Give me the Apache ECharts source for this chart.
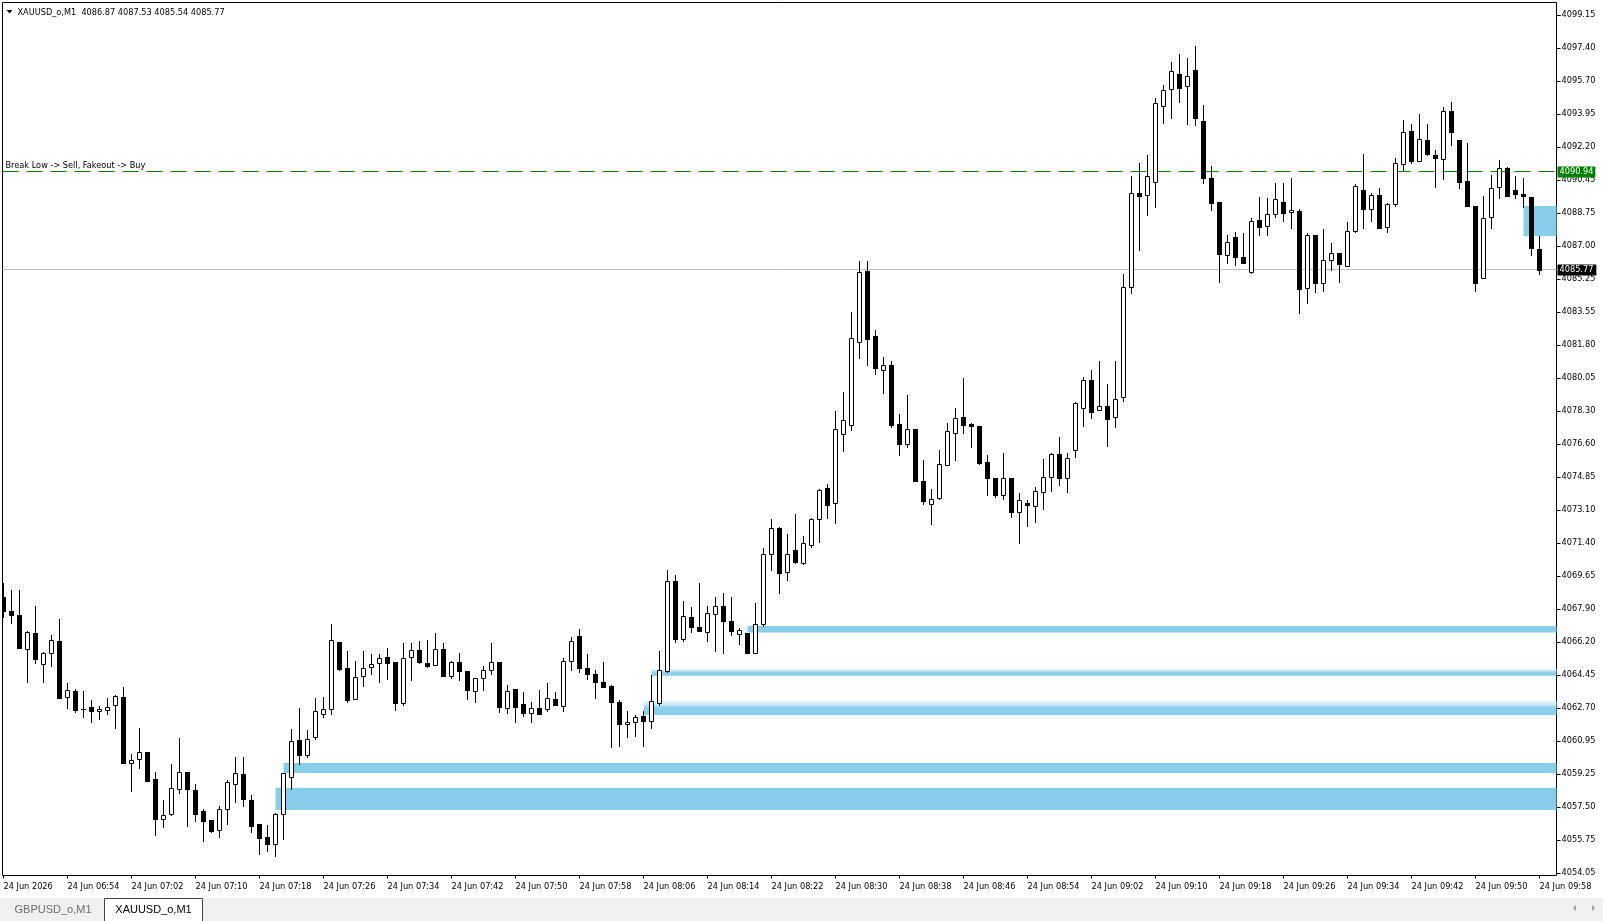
<!DOCTYPE html>
<html>
<head>
<meta charset="utf-8">
<script src="https://cdn.jsdelivr.net/npm/echarts@6/dist/echarts.min.js"></script>
<style>html,body{margin:0;padding:0;background:#fff;overflow:hidden}#chart{width:1603px;height:921px}</style>
</head>
<body>
<div id="chart"></div>
<script>
// ---------- data ----------
const symbolName = 'XAUUSD_o,M1';
const tabNames = ['GBPUSD_o,M1', 'XAUUSD_o,M1'];

const openP = [
4068.54,4067.80,4067.61,4065.84,4066.67,4065.02,4065.60,4066.24,4063.32,4063.62,
4062.65,4062.78,4062.55,4062.60,4062.86,4063.30,4059.81,4060.02,4060.39,4058.97,
4056.87,4057.15,4058.45,4059.34,4058.41,4057.31,4056.83,4056.29,4057.39,4058.71,
4059.25,4057.89,4056.63,4055.92,4055.56,4057.13,4059.08,4061.02,4060.23,4061.18,
4062.39,4062.65,4066.19,4064.81,4063.18,4064.39,4064.86,4065.07,4065.39,4065.12,
4062.97,4065.39,4065.75,4065.07,4064.97,4065.81,4064.39,4065.12,4064.65,4063.60,
4064.28,4064.70,4065.12,4062.70,4063.70,4062.91,4062.44,4062.70,4062.65,4063.18,
4062.81,4065.17,4066.49,4064.81,4064.49,4064.07,4063.86,4063.02,4061.86,4061.97,
4062.28,4062.02,4062.97,4064.65,4069.38,4066.33,4067.49,4066.96,4066.70,4067.65,
4068.07,4067.28,4066.59,4066.65,4065.60,4067.12,4070.80,4072.17,4069.89,4071.01,
4070.34,4071.31,4072.64,4074.27,4073.48,4077.11,4077.58,4081.94,4085.68,4082.26,
4080.47,4080.73,4077.63,4076.58,4077.37,4074.64,4073.43,4073.74,4075.48,4077.16,
4078.00,4077.63,4077.53,4075.64,4074.80,4073.90,4074.80,4073.01,4073.48,4073.32,
4074.06,4074.88,4076.06,4074.83,4076.27,4078.48,4079.99,4078.39,4078.60,4078.04,
4079.05,4084.83,4089.78,4089.67,4090.35,4094.35,4095.24,4096.03,4095.40,4096.24,
4093.56,4090.56,4089.30,4086.52,4087.46,4086.41,4085.62,4088.36,4088.04,4088.67,
4089.30,4088.78,4088.85,4084.78,4087.57,4085.05,4086.25,4086.62,4085.94,4087.78,
4089.93,4088.94,4089.67,4087.99,4089.20,4091.30,4093.03,4091.46,4092.56,4091.77,
4091.56,4094.09,4092.56,4090.41,4089.09,4085.31,4088.51,4090.09,4091.09,4089.93,
4089.72,4089.57,4086.87];

const highP = [
4069.28,4068.93,4068.93,4066.77,4068.10,4065.68,4066.56,4067.40,4064.02,4063.72,
4063.62,4063.14,4062.83,4063.25,4063.41,4063.83,4060.29,4061.67,4060.39,4059.38,
4057.89,4059.78,4061.13,4059.34,4058.71,4057.39,4056.83,4057.57,4058.94,4060.13,
4060.13,4058.15,4056.63,4056.55,4057.20,4059.29,4061.60,4062.72,4061.57,4063.25,
4063.30,4067.14,4066.19,4065.70,4065.17,4065.70,4065.56,4065.56,4065.86,4065.12,
4066.12,4066.12,4066.23,4066.28,4066.65,4066.12,4065.17,4065.59,4064.65,4064.28,
4064.91,4066.12,4065.12,4063.91,4063.70,4063.58,4063.05,4063.65,4064.02,4063.55,
4065.33,4066.44,4066.87,4065.54,4064.70,4065.12,4063.91,4063.12,4062.55,4062.34,
4062.55,4064.44,4065.70,4069.96,4069.70,4068.33,4068.01,4069.28,4068.07,4068.54,
4068.75,4068.54,4066.91,4066.65,4068.22,4071.11,4072.64,4072.25,4071.87,4072.92,
4071.76,4072.73,4074.23,4074.48,4078.32,4079.31,4083.52,4086.20,4086.20,4082.57,
4081.15,4080.94,4078.16,4079.16,4077.37,4075.74,4074.22,4076.27,4077.68,4078.47,
4080.05,4077.68,4077.53,4076.00,4074.80,4076.11,4074.80,4074.01,4073.64,4074.32,
4075.79,4076.11,4076.95,4076.11,4078.80,4080.14,4080.49,4080.96,4079.74,4080.96,
4085.54,4090.69,4091.37,4091.79,4094.77,4095.47,4096.66,4097.08,4096.87,4097.50,
4094.40,4091.19,4089.30,4087.57,4087.73,4087.67,4088.46,4089.57,4089.51,4090.30,
4090.30,4090.56,4088.95,4087.67,4087.57,4087.88,4087.15,4086.62,4088.25,4090.25,
4091.83,4089.78,4090.04,4089.25,4091.61,4093.61,4093.40,4093.93,4093.40,4092.04,
4094.30,4094.56,4092.56,4092.40,4089.09,4089.62,4090.72,4091.51,4091.14,4090.67,
4090.56,4089.57,4087.53];

const lowP = [
4067.52,4067.17,4065.89,4064.11,4065.07,4064.11,4064.95,4063.27,4062.74,4062.53,
4062.27,4062.00,4062.13,4062.39,4061.65,4059.81,4058.38,4059.59,4058.87,4056.05,
4056.48,4057.08,4058.27,4056.52,4056.80,4055.75,4056.22,4055.92,4056.62,4057.80,
4057.59,4056.19,4055.05,4055.22,4054.96,4055.82,4058.48,4059.76,4060.13,4061.07,
4062.27,4062.39,4064.74,4063.06,4063.18,4063.86,4064.49,4064.07,4064.23,4062.60,
4062.86,4064.18,4065.07,4064.86,4064.97,4064.39,4064.28,4064.18,4063.21,4063.02,
4063.65,4064.49,4062.49,4062.44,4061.97,4062.32,4061.97,4062.39,4062.55,4062.86,
4062.55,4064.70,4064.60,4064.26,4063.23,4063.81,4060.65,4060.74,4061.18,4061.23,
4060.71,4061.65,4062.86,4064.60,4066.17,4066.23,4066.70,4066.75,4066.23,4065.70,
4065.60,4066.54,4066.07,4065.60,4065.60,4067.01,4069.96,4068.75,4069.45,4070.33,
4070.31,4071.20,4071.46,4072.73,4072.43,4076.21,4077.32,4081.10,4080.73,4080.26,
4079.26,4077.47,4076.00,4076.42,4074.64,4073.43,4072.37,4073.69,4075.48,4075.74,
4077.16,4076.42,4075.53,4073.90,4073.80,4073.69,4072.78,4071.38,4072.27,4072.48,
4073.17,4074.15,4074.43,4074.06,4075.90,4077.56,4077.98,4078.39,4076.48,4077.51,
4078.88,4084.52,4086.80,4088.62,4089.04,4093.46,4093.72,4094.60,4093.40,4093.35,
4090.30,4088.88,4085.10,4086.10,4085.99,4086.10,4085.57,4087.57,4087.57,4088.51,
4088.30,4087.94,4083.47,4083.99,4084.57,4084.62,4085.73,4085.10,4085.94,4087.73,
4087.94,4088.30,4087.94,4087.73,4089.09,4090.99,4091.35,4091.46,4091.77,4090.09,
4090.51,4092.30,4090.04,4089.09,4084.62,4085.31,4087.94,4089.51,4089.62,4089.51,
4089.04,4086.52,4085.54];

const closeP = [
4067.84,4067.63,4065.89,4066.72,4065.28,4065.60,4066.28,4063.27,4063.67,4062.62,
4062.67,4062.55,4062.65,4062.78,4063.35,4059.81,4059.97,4060.39,4058.87,4056.90,
4057.08,4058.50,4059.34,4058.48,4057.17,4056.80,4056.27,4057.41,4058.83,4059.30,
4057.96,4056.54,4055.87,4055.56,4057.13,4059.29,4060.97,4060.23,4061.07,4062.55,
4062.65,4066.28,4064.79,4063.16,4064.33,4064.81,4065.02,4065.33,4065.11,4062.97,
4065.33,4065.75,4065.12,4064.91,4065.81,4064.39,4065.12,4064.65,4063.65,4064.28,
4064.70,4065.12,4062.79,4063.60,4062.79,4062.44,4062.74,4062.39,4063.23,4062.86,
4065.17,4066.23,4064.81,4064.49,4064.07,4063.81,4063.02,4061.86,4061.97,4062.23,
4062.02,4063.07,4064.70,4069.38,4066.33,4067.58,4066.96,4066.75,4067.70,4068.07,
4067.28,4066.75,4066.80,4065.60,4067.12,4070.80,4072.17,4069.84,4070.81,4070.41,
4071.38,4072.67,4074.18,4073.41,4077.37,4077.84,4082.15,4085.62,4082.14,4080.58,
4080.73,4077.58,4076.58,4077.40,4074.64,4073.59,4073.69,4075.53,4077.26,4077.95,
4077.58,4077.53,4075.58,4074.80,4073.90,4074.80,4073.01,4073.64,4073.38,4074.11,
4074.88,4076.06,4074.83,4075.85,4078.74,4079.99,4078.30,4078.60,4077.90,4078.95,
4084.83,4089.78,4089.62,4090.67,4094.51,4095.19,4096.19,4095.30,4095.93,4093.72,
4090.56,4089.25,4086.57,4087.20,4086.41,4086.13,4088.30,4087.99,4088.67,4089.46,
4088.73,4088.88,4084.73,4087.57,4085.05,4086.25,4086.62,4086.04,4087.78,4090.14,
4088.94,4089.67,4087.94,4089.20,4091.35,4092.98,4091.46,4092.61,4091.83,4091.62,
4094.09,4092.98,4090.35,4089.09,4085.05,4088.46,4090.04,4091.09,4089.62,4089.72,
4089.62,4086.89,4085.77];

const yTickLabels = ['4054.05','4055.75','4057.50','4059.25','4060.95','4062.70','4064.45','4066.20','4067.90',
  '4069.65','4071.40','4073.10','4074.85','4076.60','4078.30','4080.05','4081.80','4083.55','4085.25',
  '4087.00','4088.75','4090.45','4092.20','4093.95','4095.70','4097.40','4099.15'];

const xTickLabels = ['24 Jun 2026','24 Jun 06:54','24 Jun 07:02','24 Jun 07:10','24 Jun 07:18','24 Jun 07:26',
  '24 Jun 07:34','24 Jun 07:42','24 Jun 07:50','24 Jun 07:58','24 Jun 08:06','24 Jun 08:14','24 Jun 08:22',
  '24 Jun 08:30','24 Jun 08:38','24 Jun 08:46','24 Jun 08:54','24 Jun 09:02','24 Jun 09:10','24 Jun 09:18',
  '24 Jun 09:26','24 Jun 09:34','24 Jun 09:42','24 Jun 09:50','24 Jun 09:58'];
const xTickEvery = 8;

// zones: start bar, top price, bottom price, faded top (1/0)
const zoneStart  = [34, 35, 80, 81, 93, 190];
const zoneTop    = [4058.53, 4059.83, 4063.09, 4064.77, 4067.03, 4089.11];
const zoneBottom = [4057.36, 4059.31, 4062.36, 4064.42, 4066.69, 4087.53];
const zoneFade   = [0, 0, 1, 1, 0, 0];

// horizontal levels: price, kind (0 = dashed signal level, 1 = bid line)
const levelPrices = [4090.94, 4085.77];
const levelKinds  = [0, 1];
const levelTexts  = ['Break Low -> Sell, Fakeout -> Buy', ''];

// ---------- layout ----------
const FONT = '"DejaVu Sans", sans-serif';
const FS = 8.2;
const N = openP.length;
const X_MIN = -0.125, X_MAX = 194.125;
const Y_MIN = 4053.918, Y_MAX = 4099.807;
const Y_LAB_MIN = parseFloat(yTickLabels[0]);
const Y_LAB_MAX = parseFloat(yTickLabels[yTickLabels.length - 1]);
const Y_STEP = (Y_LAB_MAX - Y_LAB_MIN) / (yTickLabels.length - 1);

const candleData = openP.map((o, i) => [i, o, highP[i], lowP[i], closeP[i]]);
const zoneData = zoneStart.map((s, k) => [s, zoneTop[k], zoneBottom[k], zoneFade[k]]);
const levelData = levelPrices.map((p, k) => [0, p, levelKinds[k], k]);

function renderCandle(params, api) {
  const i = api.value(0), o = api.value(1), h = api.value(2), l = api.value(3), c = api.value(4);
  const pO = api.coord([i, o]), pC = api.coord([i, c]);
  const pH = api.coord([i, h]), pL = api.coord([i, l]);
  const x = Math.floor(pO[0]);
  const yTop = Math.round(Math.min(pO[1], pC[1]));
  const yBot = Math.round(Math.max(pO[1], pC[1]));
  const yH = Math.round(pH[1]), yL = Math.round(pL[1]);
  const kids = [{type: 'line', shape: {x1: x + 0.5, y1: yH, x2: x + 0.5, y2: yL + 1},
    style: {stroke: '#000', lineWidth: 1}}];
  if (yBot - yTop < 1) {
    kids.push({type: 'line', shape: {x1: x - 2, y1: yTop + 0.5, x2: x + 3, y2: yTop + 0.5},
      style: {stroke: '#000', lineWidth: 1}});
  } else if (c > o) {
    kids.push({type: 'rect', shape: {x: x - 1.5, y: yTop + 0.5, width: 4, height: yBot - yTop},
      style: {fill: '#fff', stroke: '#000', lineWidth: 1}});
  } else {
    kids.push({type: 'rect', shape: {x: x - 2, y: yTop, width: 5, height: yBot - yTop + 1},
      style: {fill: '#000'}});
  }
  return {type: 'group', children: kids};
}

function renderZone(params, api) {
  const s = api.value(0), t = api.value(1), b = api.value(2), fade = api.value(3);
  const p1 = api.coord([s, t]), p2 = api.coord([s, b]);
  const cs = params.coordSys;
  const x0 = p1[0], x1 = cs.x + cs.width;
  const fill = fade ? new echarts.graphic.LinearGradient(0, 0, 0, 1, [
      {offset: 0, color: '#E4F4FB'}, {offset: 0.3, color: '#C6E8F6'},
      {offset: 0.45, color: '#8FD1EC'}, {offset: 1, color: '#87CEEB'}]) : '#87CEEB';
  return {type: 'rect', shape: {x: x0, y: p1[1], width: x1 - x0, height: p2[1] - p1[1]},
    style: {fill: fill}};
}

function renderLevel(params, api) {
  const p = api.value(1), kind = api.value(2), k = api.value(3);
  const cs = params.coordSys;
  const y = Math.floor(api.coord([0, p])[1]) + 0.5;
  const xL = cs.x, xR = cs.x + cs.width;
  const kids = [];
  if (kind === 0) {
    kids.push({type: 'line', shape: {x1: xL, y1: y, x2: xR, y2: y},
      style: {stroke: '#008000', lineWidth: 1, lineDash: [16, 8]}});
    kids.push({type: 'text', x: xL + 3, y: y - 1.5,
      style: {text: levelTexts[k], fill: '#000', font: FS + 'px ' + FONT, verticalAlign: 'bottom', align: 'left'}});
    kids.push({type: 'text', x: xR + 1, y: y + 0.5,
      style: {text: p.toFixed(2), fill: '#fff', font: FS + 'px ' + FONT, verticalAlign: 'middle', align: 'left',
        backgroundColor: '#008000', padding: [2, 2, 1, 2]}});
  } else {
    kids.push({type: 'line', shape: {x1: xL, y1: y, x2: xR, y2: y},
      style: {stroke: '#C0C0C0', lineWidth: 1}});
    kids.push({type: 'text', x: xR + 1, y: y + 0.5,
      style: {text: p.toFixed(2), fill: '#fff', font: FS + 'px ' + FONT, verticalAlign: 'middle', align: 'left',
        backgroundColor: '#000', padding: [2, 3, 1, 2]}});
  }
  return {type: 'group', children: kids};
}

const last = N - 1;
const headerText = symbolName + '  ' + openP[last].toFixed(2) + ' ' + highP[last].toFixed(2) + ' ' +
  lowP[last].toFixed(2) + ' ' + closeP[last].toFixed(2);

const noLine = {show: false, onZero: false};

const chart = echarts.init(document.getElementById('chart'), null, {renderer: 'canvas'});
chart.setOption({
  animation: false,
  backgroundColor: '#ffffff',
  textStyle: {fontFamily: FONT},
  grid: [
    {left: 2.5, top: 2.5, width: 1554, height: 873, show: true, borderColor: '#000', borderWidth: 1, backgroundColor: 'transparent'},
    {left: 2.5, top: 15, width: 1554, height: 858, show: false},
    {left: 3.5, top: 2.5, width: 1536, height: 873, show: false}
  ],
  xAxis: [
    {gridIndex: 0, type: 'value', min: X_MIN, max: X_MAX, show: false, axisLine: noLine},
    {gridIndex: 1, type: 'value', min: 0, max: 1, show: false, axisLine: noLine},
    {gridIndex: 2, type: 'value', min: 0, max: N - 1, interval: xTickEvery, position: 'bottom',
      axisLine: noLine,
      axisTick: {show: true, length: 3, lineStyle: {color: '#000', width: 1}},
      splitLine: {show: false},
      axisLabel: {show: true, showMinLabel: true, showMaxLabel: true, align: 'left', margin: 7,
        color: '#000', fontFamily: FONT, fontSize: FS,
        formatter: function (v) { const k = Math.round(v / xTickEvery); return xTickLabels[k] || ''; }}}
  ],
  yAxis: [
    {gridIndex: 0, type: 'value', min: Y_MIN, max: Y_MAX, show: false, axisLine: noLine},
    {gridIndex: 1, type: 'value', min: Y_LAB_MIN, max: Y_LAB_MAX, interval: Y_STEP, position: 'right',
      axisLine: noLine,
      axisTick: {show: true, length: 4, lineStyle: {color: '#000', width: 1}},
      splitLine: {show: false},
      axisLabel: {show: true, margin: 5, color: '#000', fontFamily: FONT, fontSize: FS, padding: [5, 0, 0, 0],
        formatter: function (v, idx) {
          if (idx >= yTickLabels.length) return '';
          const k = Math.round((v - Y_LAB_MIN) / Y_STEP);
          return yTickLabels[k] || '';
        }}},
    {gridIndex: 2, type: 'value', min: 0, max: 1, show: false, axisLine: noLine}
  ],
  series: [
    {
      type: 'custom', name: 'zones', xAxisIndex: 0, yAxisIndex: 0, z: 1, silent: true, clip: true,
      data: zoneData, encode: {x: 0, y: [1, 2]}, renderItem: renderZone
    },
    {
      type: 'custom', name: 'levels', xAxisIndex: 0, yAxisIndex: 0, z: 2, silent: true, clip: false,
      data: levelData, encode: {x: 0, y: 1}, renderItem: renderLevel
    },
    {
      type: 'custom', name: symbolName, xAxisIndex: 0, yAxisIndex: 0, z: 3, silent: true, clip: true,
      data: candleData, encode: {x: 0, y: [1, 2, 3, 4]}, renderItem: renderCandle
    }
  ],
  graphic: [
    {type: 'polygon', shape: {points: [[6.5, 10], [12.5, 10], [9.5, 13.5]]}, style: {fill: '#000'}, silent: true},
    {type: 'text', x: 17.5, y: 13, style: {text: headerText, fill: '#000', font: FS + 'px ' + FONT, verticalAlign: 'middle'}, silent: true},
    {type: 'rect', shape: {x: 0, y: 898, width: 1603, height: 23}, style: {fill: '#F0F0F0'}, silent: true},
    {type: 'rect', shape: {x: 104.5, y: 898.5, width: 98, height: 24}, style: {fill: '#fff', stroke: '#444', lineWidth: 1}, silent: true},
    {type: 'text', x: 53, y: 909.5, style: {text: tabNames[0], fill: '#6D6D6D', font: '11px "Liberation Sans", sans-serif', align: 'center', verticalAlign: 'middle'}, silent: true},
    {type: 'text', x: 153.5, y: 909.5, style: {text: tabNames[1], fill: '#000', font: '11px "Liberation Sans", sans-serif', align: 'center', verticalAlign: 'middle'}, silent: true},
    {type: 'polygon', shape: {points: [[1576, 905], [1576, 911], [1573, 908]]}, style: {fill: '#A0A0A0'}, silent: true},
    {type: 'polygon', shape: {points: [[1592, 905], [1592, 911], [1595, 908]]}, style: {fill: '#A0A0A0'}, silent: true}
  ]
});
</script>
</body>
</html>
